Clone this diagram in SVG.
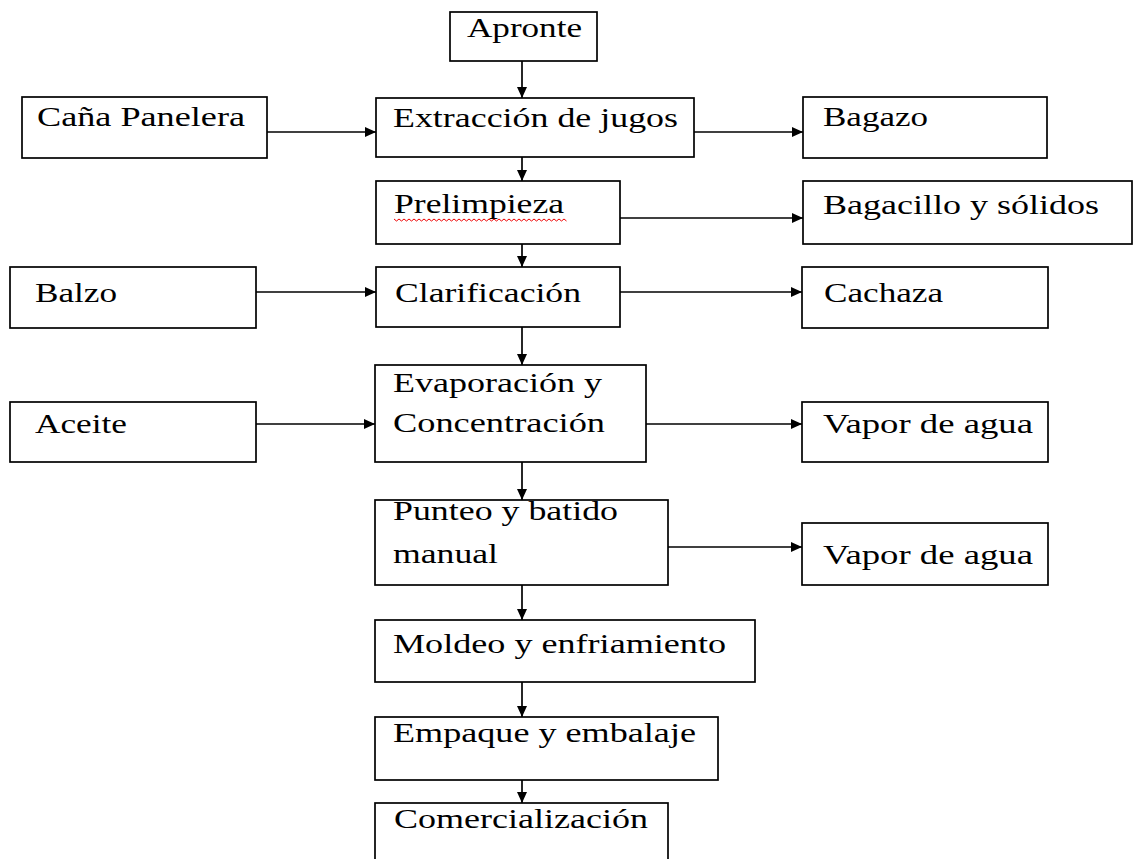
<svg xmlns="http://www.w3.org/2000/svg" width="1135" height="859" viewBox="0 0 1135 859">
<style>
.box{fill:#fff;stroke:#000;stroke-width:1.7}
.t{font-family:"Liberation Serif","Times New Roman",serif;font-size:28px;fill:#000}
.c{stroke:#000;stroke-width:1.7;fill:none;marker-end:url(#ah)}
</style>
<defs>
<marker id="ah" markerUnits="userSpaceOnUse" markerWidth="12" markerHeight="10" refX="11" refY="5" orient="auto">
<path d="M0,0 L11,5 L0,10 Z" fill="#000"/>
</marker>
</defs>
<rect width="1135" height="859" fill="#fff"/>
<g id="connectors">
<line class="c" x1="522" y1="61" x2="522" y2="98"/>
<line class="c" x1="522" y1="157" x2="522" y2="181"/>
<line class="c" x1="522" y1="244" x2="522" y2="267"/>
<line class="c" x1="522" y1="327" x2="522" y2="365"/>
<line class="c" x1="522" y1="462" x2="522" y2="500"/>
<line class="c" x1="522" y1="585" x2="522" y2="620"/>
<line class="c" x1="522" y1="682" x2="522" y2="717"/>
<line class="c" x1="522" y1="780" x2="522" y2="803"/>
<line class="c" x1="267" y1="132" x2="376" y2="132"/>
<line class="c" x1="694" y1="132" x2="803" y2="132"/>
<line class="c" x1="620" y1="218" x2="803" y2="218"/>
<line class="c" x1="256" y1="292" x2="376" y2="292"/>
<line class="c" x1="620" y1="292" x2="802" y2="292"/>
<line class="c" x1="256" y1="424" x2="375" y2="424"/>
<line class="c" x1="646" y1="424" x2="802" y2="424"/>
<line class="c" x1="668" y1="547" x2="802" y2="547"/>
</g>
<g id="apronte"><rect class="box" x="450" y="12" width="147" height="49"/><text class="t" x="467" y="37" textLength="115" lengthAdjust="spacingAndGlyphs">Apronte</text></g>
<g id="extraccion"><rect class="box" x="376" y="98" width="318" height="59"/><text class="t" x="393" y="127" textLength="285" lengthAdjust="spacingAndGlyphs">Extracción de jugos</text></g>
<g id="cana"><rect class="box" x="22" y="97" width="245" height="61"/><text class="t" x="37" y="126" textLength="208" lengthAdjust="spacingAndGlyphs">Caña Panelera</text></g>
<g id="bagazo"><rect class="box" x="803" y="97" width="244" height="61"/><text class="t" x="823" y="126" textLength="105" lengthAdjust="spacingAndGlyphs">Bagazo</text></g>
<g id="prelimpieza"><rect class="box" x="376" y="181" width="244" height="63"/><text class="t" x="394" y="213" textLength="170" lengthAdjust="spacingAndGlyphs">Prelimpieza</text>
<path d="M394,219 l2.5,2 l2.5,-2 l2.5,2 l2.5,-2 l2.5,2 l2.5,-2 l2.5,2 l2.5,-2 l2.5,2 l2.5,-2 l2.5,2 l2.5,-2 l2.5,2 l2.5,-2 l2.5,2 l2.5,-2 l2.5,2 l2.5,-2 l2.5,2 l2.5,-2 l2.5,2 l2.5,-2 l2.5,2 l2.5,-2 l2.5,2 l2.5,-2 l2.5,2 l2.5,-2 l2.5,2 l2.5,-2 l2.5,2 l2.5,-2 l2.5,2 l2.5,-2 l2.5,2 l2.5,-2 l2.5,2 l2.5,-2 l2.5,2 l2.5,-2 l2.5,2 l2.5,-2 l2.5,2 l2.5,-2 l2.5,2 l2.5,-2 l2.5,2 l2.5,-2 l2.5,2 l2.5,-2 l2.5,2 l2.5,-2 l2.5,2 l2.5,-2 l2.5,2 l2.5,-2 l2.5,2 l2.5,-2 l2.5,2 l2.5,-2 l2.5,2 l2.5,-2 l2.5,2 l2.5,-2 l2.5,2 l2.5,-2 l2.5,2 l2.5,-2 l2.5,2" fill="none" stroke="#e00" stroke-width="1"/></g>
<g id="bagacillo"><rect class="box" x="803" y="181" width="329" height="63"/><text class="t" x="823" y="214" textLength="276" lengthAdjust="spacingAndGlyphs">Bagacillo y sólidos</text></g>
<g id="balzo"><rect class="box" x="10" y="267" width="246" height="61"/><text class="t" x="35" y="302" textLength="82" lengthAdjust="spacingAndGlyphs">Balzo</text></g>
<g id="clarificacion"><rect class="box" x="376" y="267" width="244" height="60"/><text class="t" x="395" y="302" textLength="186" lengthAdjust="spacingAndGlyphs">Clarificación</text></g>
<g id="cachaza"><rect class="box" x="802" y="267" width="246" height="61"/><text class="t" x="824" y="302" textLength="119" lengthAdjust="spacingAndGlyphs">Cachaza</text></g>
<g id="aceite"><rect class="box" x="10" y="402" width="246" height="60"/><text class="t" x="35" y="433" textLength="92" lengthAdjust="spacingAndGlyphs">Aceite</text></g>
<g id="evaporacion"><rect class="box" x="375" y="365" width="271" height="97"/><text class="t" x="393" y="392" textLength="209" lengthAdjust="spacingAndGlyphs">Evaporación y</text><text class="t" x="393" y="432" textLength="212" lengthAdjust="spacingAndGlyphs">Concentración</text></g>
<g id="vapor1"><rect class="box" x="802" y="402" width="246" height="60"/><text class="t" x="823" y="433" textLength="210" lengthAdjust="spacingAndGlyphs">Vapor de agua</text></g>
<g id="punteo"><rect class="box" x="375" y="500" width="293" height="85"/><text class="t" x="393" y="520" textLength="225" lengthAdjust="spacingAndGlyphs">Punteo y batido</text><text class="t" x="393" y="563" textLength="105" lengthAdjust="spacingAndGlyphs">manual</text></g>
<g id="vapor2"><rect class="box" x="802" y="523" width="246" height="62"/><text class="t" x="823" y="564" textLength="210" lengthAdjust="spacingAndGlyphs">Vapor de agua</text></g>
<g id="moldeo"><rect class="box" x="375" y="620" width="380" height="62"/><text class="t" x="393" y="653" textLength="333" lengthAdjust="spacingAndGlyphs">Moldeo y enfriamiento</text></g>
<g id="empaque"><rect class="box" x="375" y="717" width="343" height="63"/><text class="t" x="393" y="742" textLength="303" lengthAdjust="spacingAndGlyphs">Empaque y embalaje</text></g>
<g id="comercializacion"><rect class="box" x="375" y="803" width="293" height="80"/><text class="t" x="394" y="828" textLength="254" lengthAdjust="spacingAndGlyphs">Comercialización</text></g>
</svg>
